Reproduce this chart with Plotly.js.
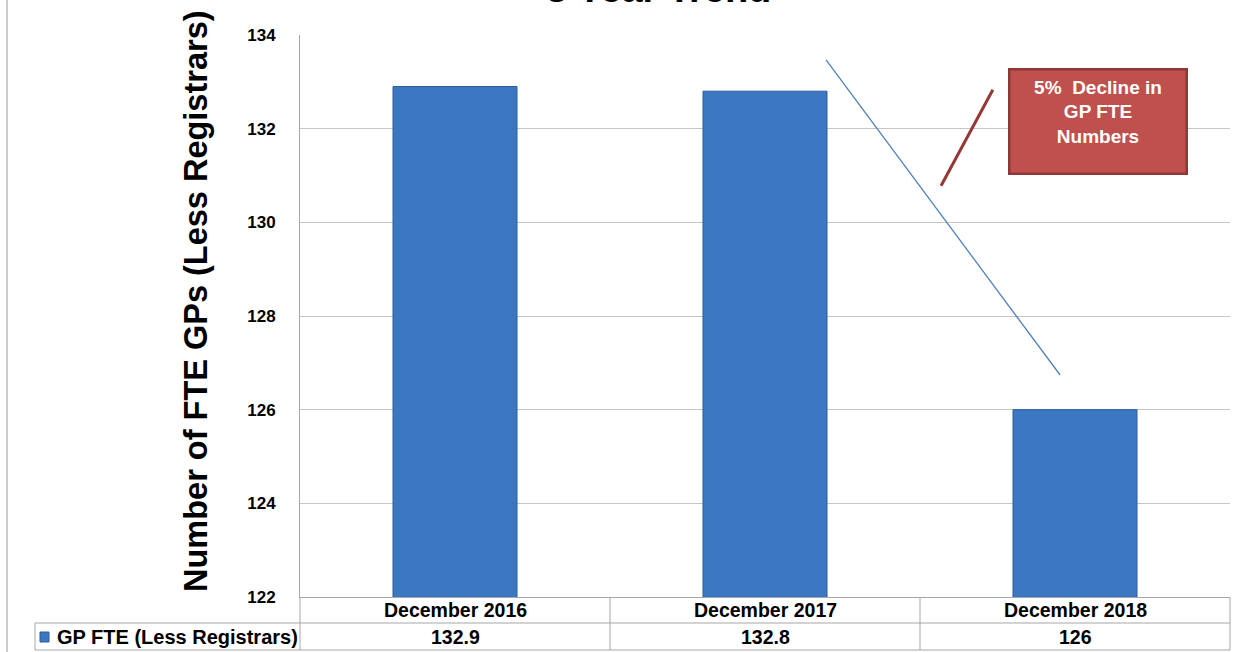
<!DOCTYPE html>
<html>
<head>
<meta charset="utf-8">
<script src="https://cdn.plot.ly/plotly-3.0.1.min.js"></script>
<style>
  html, body { margin: 0; padding: 0; background: #fff; }
  #chart { width: 1235px; height: 652px; }
</style>
</head>
<body>
<div id="chart"></div>
<script>
// ---- data ----
const categories = ["December 2016", "December 2017", "December 2018"];
const seriesName = "GP FTE (Less Registrars)";
const gpFte = [132.9, 132.8, 126];
const yTicks = [122, 124, 126, 128, 130, 132, 134];
const chartTitle = "3 Year Trend";
const yTitle = "Number of FTE GPs (Less Registrars)";
const calloutText = "5%  Decline in<br>GP FTE<br>Numbers";

// ---- layout helpers (pixel -> paper) ----
const W = 1235, H = 652;
const M = { l: 300, r: 5, t: 35, b: 55 };
const PW = W - M.l - M.r, PH = H - M.t - M.b;
const px = x => (x - M.l) / PW;
const py = y => (H - M.b - y) / PH;

const FONT = "Liberation Sans, Arial, sans-serif";
const GRID = "#C6C6C6";
const BORDER = "#A6A6A6";
const TABLE_FONT = { family: FONT, size: 19.5, color: "#000", weight: "bold" };

const trace = {
  type: "bar",
  name: seriesName,
  x: categories,
  y: gpFte,
  width: 0.4,
  marker: { color: "#3C77C1", line: { color: "#2E5C99", width: 1 } },
  hoverinfo: "skip",
  showlegend: false
};

function vline(x, y0, y1, color) {
  return { type: "line", xref: "paper", yref: "paper", x0: px(x), x1: px(x), y0: py(y0), y1: py(y1),
           line: { color: color || BORDER, width: 1 } };
}
function hline(y, x0, x1, color) {
  return { type: "line", xref: "paper", yref: "paper", x0: px(x0), x1: px(x1), y0: py(y), y1: py(y),
           line: { color: color || BORDER, width: 1 } };
}

const shapes = [
  vline(7, 0, 652, "#9A9A9A"),
  vline(300, 597, 650),
  vline(610, 597, 650),
  vline(920, 597, 650),
  vline(1230, 597, 650),
  vline(35, 623, 650),
  hline(623, 35, 1230),
  hline(650, 35, 1230),
  { type: "rect", xref: "paper", yref: "paper", x0: px(40), x1: px(49), y0: py(642), y1: py(632),
    fillcolor: "#3C77C1", line: { color: "#2E5C99", width: 1 } },
  // trend line
  { type: "line", xref: "x", yref: "y", x0: 1.197, y0: 133.47, x1: 1.952, y1: 126.74,
    line: { color: "#4F81BD", width: 1.3 } },
  // callout pointer
  { type: "line", xref: "x", yref: "y", x0: 1.735, y0: 132.83, x1: 1.568, y1: 130.78,
    line: { color: "#953735", width: 3 } }
];

const annotations = [
  { text: chartTitle, xref: "paper", yref: "paper", x: px(658), y: py(12), xanchor: "center", yanchor: "bottom",
    showarrow: false, font: { family: FONT, size: 38, color: "#000", weight: "bold" } },
  { text: yTitle, xref: "paper", yref: "paper", x: px(196), y: py(301), xanchor: "center", yanchor: "middle",
    textangle: -90, showarrow: false, font: { family: FONT, size: 32.5, color: "#000", weight: "bold" } },
  { text: seriesName, xref: "paper", yref: "paper", x: px(55), y: py(636.5), xanchor: "left", yanchor: "middle",
    showarrow: false, font: { family: FONT, size: 20, color: "#000", weight: "bold" } },
  { text: calloutText, xref: "paper", yref: "paper", x: px(1098), y: py(121.5), xanchor: "center", yanchor: "middle",
    width: 163, height: 90, valign: "top", align: "center", showarrow: false,
    bgcolor: "#C0504D", bordercolor: "#8C3836", borderwidth: 2.5, borderpad: 6,
    font: { family: FONT, size: 19, color: "#fff", weight: "bold" } }
];
categories.forEach((c, i) => {
  annotations.push({ text: c, xref: "x", yref: "paper", x: c, y: py(610),
    xanchor: "center", yanchor: "middle", showarrow: false, font: TABLE_FONT });
  annotations.push({ text: String(gpFte[i]), xref: "x", yref: "paper", x: c, y: py(636.5),
    xanchor: "center", yanchor: "middle", showarrow: false, font: TABLE_FONT });
});

const layout = {
  width: W, height: H,
  margin: M,
  paper_bgcolor: "#fff", plot_bgcolor: "#fff",
  xaxis: {
    type: "category",
    showline: true, linecolor: BORDER, linewidth: 1,
    showgrid: false, ticks: "", showticklabels: false,
    fixedrange: true
  },
  yaxis: {
    range: [122, 134],
    tickvals: yTicks,
    ticktext: yTicks.map(String),
    showline: true, linecolor: BORDER, linewidth: 1,
    showgrid: true, gridcolor: GRID, gridwidth: 1,
    zeroline: false, ticks: "",
    ticklabelstandoff: 20,
    tickfont: { family: FONT, size: 17, color: "#000", weight: "bold" },
    fixedrange: true
  },
  shapes: shapes,
  annotations: annotations,
  showlegend: false
};

Plotly.newPlot("chart", [trace], layout, { displayModeBar: false, staticPlot: true });
</script>
</body>
</html>
